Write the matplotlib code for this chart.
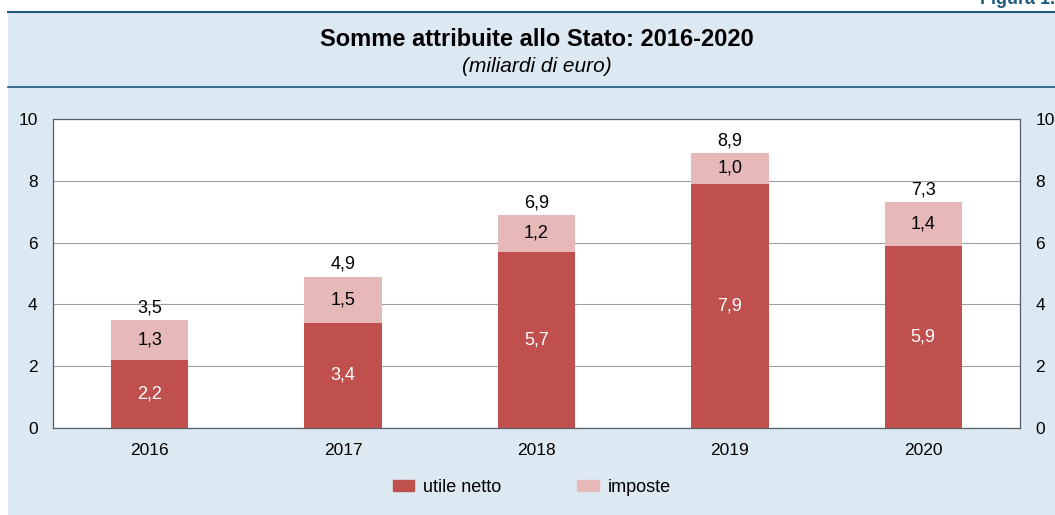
import matplotlib.pyplot as plt
from matplotlib.patches import Rectangle, Patch
import numpy as np

plt.rcParams['font.family'] = ['Liberation Sans', 'DejaVu Sans']

anni = ['2016', '2017', '2018', '2019', '2020']
utile = [2.2, 3.4, 5.7, 7.9, 5.9]
imposte = [1.3, 1.5, 1.2, 1.0, 1.4]
totale = [3.5, 4.9, 6.9, 8.9, 7.3]

c_utile = '#c0504d'
c_imposte = '#e6b9b8'
bg = '#dde9f2'
blu = '#1f5a80'

W, H = 1055, 515
fig = plt.figure(figsize=(W / 100, H / 100), dpi=100)
fig.patch.set_facecolor('white')

# pannello azzurro e linee di intestazione
fig.add_artist(Rectangle((8 / W, 0), 1, 1 - 12 / H, transform=fig.transFigure,
                         facecolor=bg, edgecolor='none', zorder=-5))
fig.add_artist(plt.Line2D([8 / W, 1], [1 - 12 / H] * 2, color=blu, lw=1.5, zorder=-4))
fig.add_artist(plt.Line2D([8 / W, 1], [1 - 87 / H] * 2, color=blu, lw=1.2, zorder=-4))

fig.text(1.0, 1 - 4 / H, 'Figura 1.', ha='right', va='baseline', color=blu,
         fontsize=13, fontweight='bold')
fig.text(537 / W, 1 - 40 / H, 'Somme attribuite allo Stato: 2016-2020', ha='center',
         va='center', fontsize=17, fontweight='bold')
fig.text(537 / W, 1 - 66 / H, '(miliardi di euro)', ha='center', va='center',
         fontsize=15, style='italic')

ax = fig.add_axes([53 / W, 1 - 428 / H, (1020 - 53) / W, (428 - 119) / H])
ax.set_facecolor('white')
x = np.arange(len(anni))
w = 0.40
ax.bar(x, utile, w, color=c_utile, zorder=3)
ax.bar(x, imposte, w, bottom=utile, color=c_imposte, zorder=3)

for i in range(len(anni)):
    ax.text(x[i], utile[i] / 2, f'{utile[i]:.1f}'.replace('.', ','), ha='center',
            va='center', color='white', fontsize=13, zorder=4)
    ax.text(x[i], utile[i] + imposte[i] / 2, f'{imposte[i]:.1f}'.replace('.', ','),
            ha='center', va='center', color='black', fontsize=13, zorder=4)
    ax.text(x[i], totale[i] + 0.12, f'{totale[i]:.1f}'.replace('.', ','),
            ha='center', va='bottom', color='black', fontsize=13, zorder=4)

ax.set_xlim(-0.5, 4.5)
ax.set_ylim(0, 10)
ax.set_xticks(x)
ax.set_xticklabels(anni)
ax.set_yticks([0, 2, 4, 6, 8, 10])
ax.tick_params(axis='both', length=0, labelsize=12.5)
ax.tick_params(axis='x', pad=11)
ax.tick_params(axis='y', pad=11, labelright=True, right=False)
ax.grid(axis='y', color='#a0a0a0', lw=0.8, zorder=0)
for s in ax.spines.values():
    s.set_color('#555f6a')
    s.set_linewidth(0.9)

handles = [Patch(color=c_utile, label='utile netto'), Patch(color=c_imposte, label='imposte')]
fig.legend(handles=handles, loc='center', bbox_to_anchor=(532 / W, 1 - 487 / H), ncol=2,
           frameon=False, fontsize=13, handlelength=1.2, handleheight=0.55,
           columnspacing=4.2, handletextpad=0.5)

fig.savefig('out.png', dpi=100, facecolor=fig.get_facecolor())
